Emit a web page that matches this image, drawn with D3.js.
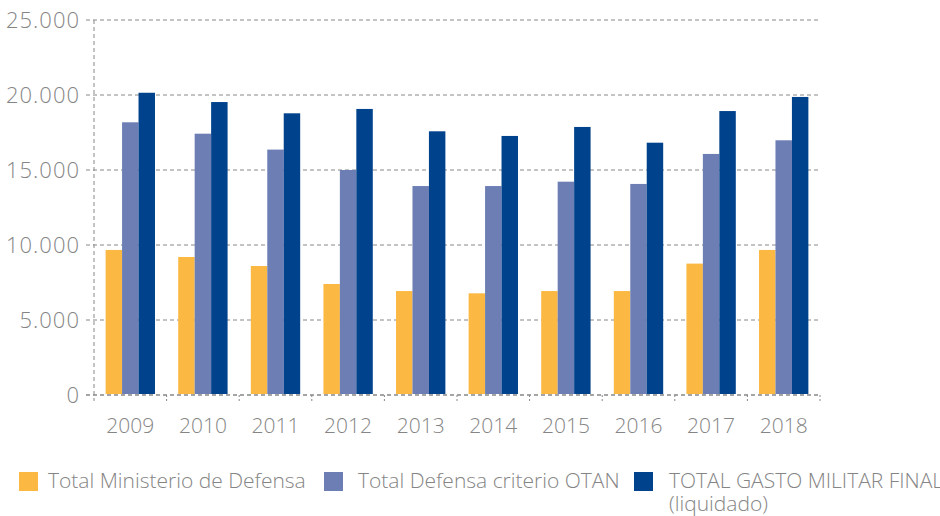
<!DOCTYPE html>
<html>
<head>
<meta charset="utf-8">
<script src="https://cdn.jsdelivr.net/npm/d3@7"></script>
<style>
  body { margin: 0; background: #fff; }
  svg text { font-family: "Open Sans", sans-serif; font-weight: 300; fill: #858585; }
</style>
</head>
<body>
<div id="chart"></div>
<script>
const years = ["2009", "2010", "2011", "2012", "2013", "2014", "2015", "2016", "2017", "2018"];
const seriesNames = ["Total Ministerio de Defensa", "Total Defensa criterio OTAN", "TOTAL GASTO MILITAR FINAL (liquidado)"];
const ministerio = [9670, 9200, 8600, 7400, 6930, 6780, 6930, 6930, 8760, 9670];
const otan = [18180, 17420, 16360, 15000, 13930, 13930, 14220, 14070, 16070, 16980];
const totalFinal = [20150, 19530, 18780, 19070, 17580, 17270, 17870, 16820, 18930, 19870];
const yTicks = [0, 5000, 10000, 15000, 20000, 25000];
const colors = ["#fbb944", "#6c7eb4", "#00438c"];

const width = 940, height = 516;
const margin = { top: 20, right: 120, bottom: 121, left: 94 };

const svg = d3.select("#chart").append("svg")
    .attr("width", width).attr("height", height);

const x = d3.scaleBand()
    .domain(years)
    .range([margin.left, width - margin.right])
    .paddingInner(0.32)
    .paddingOuter(0.16);

const series = [ministerio, otan, totalFinal];
const xInner = d3.scaleBand()
    .domain(d3.range(series.length))
    .range([0, x.bandwidth()]);

const y = d3.scaleLinear()
    .domain([0, 25000])
    .range([height - margin.bottom, margin.top]);

const fmt = d => d3.format(",")(d).replace(/,/g, ".");

// horizontal grid lines
svg.append("g")
    .selectAll("line")
    .data(yTicks.filter(d => d > 0))
    .join("line")
    .attr("x1", margin.left - 8)
    .attr("x2", width - margin.right)
    .attr("y1", d => y(d))
    .attr("y2", d => y(d))
    .attr("stroke", "#888")
    .attr("stroke-width", 1)
    .attr("stroke-dasharray", "4,3");

// y labels
svg.append("g")
    .selectAll("text")
    .data(yTicks)
    .join("text")
    .attr("x", margin.left - 14)
    .attr("y", d => y(d))
    .attr("dy", "0.36em")
    .attr("text-anchor", "end")
    .style("font-size", "22px")
    .style("letter-spacing", "1px")
    .text(d => fmt(d));

// bars
const groups = svg.append("g")
    .selectAll("g")
    .data(years)
    .join("g")
    .attr("transform", d => `translate(${x(d)},0)`);

groups.selectAll("rect")
    .data((d, i) => series.map((s, k) => ({ k, v: s[i] })))
    .join("rect")
    .attr("x", d => xInner(d.k))
    .attr("y", d => y(d.v))
    .attr("width", xInner.bandwidth())
    .attr("height", d => y(0) - y(d.v) - 1)
    .attr("fill", d => colors[d.k]);

// axes (dashed)
const axisColor = "#888";
svg.append("line")
    .attr("x1", margin.left).attr("x2", margin.left)
    .attr("y1", margin.top).attr("y2", y(0) + 6)
    .attr("stroke", axisColor).attr("stroke-dasharray", "4,3");

svg.append("line")
    .attr("x1", margin.left - 8).attr("x2", width - margin.right)
    .attr("y1", y(0)).attr("y2", y(0))
    .attr("stroke", axisColor).attr("stroke-width", 1.5).attr("stroke-dasharray", "4,3");

const step = x.step();
const boundaries = years.map(d => x(d) + x.bandwidth() + (step - x.bandwidth()) / 2);
svg.append("g")
    .selectAll("line")
    .data(boundaries)
    .join("line")
    .attr("x1", d => d).attr("x2", d => d)
    .attr("y1", y(0)).attr("y2", y(0) + 7)
    .attr("stroke", axisColor).attr("stroke-dasharray", "2,2");

// x labels
svg.append("g")
    .selectAll("text")
    .data(years)
    .join("text")
    .attr("x", d => x(d) + x.bandwidth() / 2)
    .attr("y", 433)
    .attr("text-anchor", "middle")
    .style("font-size", "21px")
    .text(d => d);

// legend
const legendX = [19, 324, 634];
const legendTextX = [29, 34, 35];
const legend = svg.append("g")
    .selectAll("g")
    .data(seriesNames)
    .join("g")
    .attr("transform", (d, i) => `translate(${legendX[i]},472)`);

legend.append("rect")
    .attr("width", 19).attr("height", 19)
    .attr("fill", (d, i) => colors[i]);

legend.append("text")
    .attr("x", (d, i) => legendTextX[i])
    .attr("y", 16)
    .style("font-size", "21px")
    .each(function(d, i) {
        const t = d3.select(this);
        const parts = d.split(" (");
        t.append("tspan").text(parts[0]);
        if (parts[1]) {
            t.append("tspan").attr("x", legendTextX[i]).attr("dy", "1.1em").text("(" + parts[1]);
        }
    });
</script>
</body>
</html>
